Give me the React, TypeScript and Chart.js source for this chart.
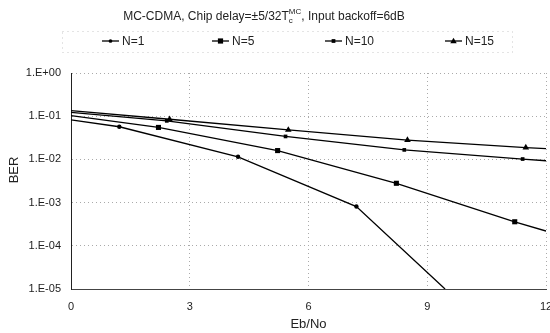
import React, { useEffect, useRef } from "react";
import { Chart, registerables } from "chart.js";

Chart.register(...registerables);

// ---- data ----
const seriesNames = ["N=1", "N=5", "N=10", "N=15"];
const n1X = [0, 1.22, 4.22, 7.21, 9.45];
const n1Y = [0.082, 0.057, 0.0115, 0.00081, 0.00001];
const n5X = [0, 2.21, 5.22, 8.22, 11.21, 12];
const n5Y = [0.103, 0.055, 0.016, 0.0028, 0.00036, 0.00022];
const n10X = [0, 2.42, 5.42, 8.42, 11.41, 12];
const n10Y = [0.123, 0.078, 0.034, 0.0166, 0.0102, 0.0093];
const n15X = [0, 2.49, 5.49, 8.5, 11.49, 12];
const n15Y = [0.134, 0.085, 0.048, 0.028, 0.0187, 0.0178];
const xTicks = [0, 3, 6, 9, 12];
const titleMain = "MC-CDMA, Chip delay=\u00B15/32T";
const titleSub = "c";
const titleSup = "MC";
const titleEnd = ", Input backoff=6dB";
const xTitle = "Eb/No";
const yTitle = "BER";

const FONT = "'Liberation Sans', Arial, sans-serif";
const markerStyles = ["circle", "rect", "rect", "triangle"];
const markerRadii = [2.2, 3.6, 2.6, 3.8];

const toPts = (xs: number[], ys: number[]) => xs.map((x, i) => ({ x, y: ys[i] }));

const isDecade = (v: number) => {
  const l = Math.log10(v);
  return Math.abs(l - Math.round(l)) < 1e-9;
};
const fmtDecade = (v: number) => {
  const e = Math.round(Math.log10(v));
  return "1.E" + (e >= 0 ? "+" : "-") + String(Math.abs(e)).padStart(2, "0");
};

function drawMarker(ctx: CanvasRenderingContext2D, style: string, x: number, y: number, r: number) {
  ctx.beginPath();
  if (style === "circle") {
    ctx.arc(x, y, r, 0, Math.PI * 2);
  } else if (style === "rect") {
    ctx.rect(x - r * 0.85, y - r * 0.85, r * 1.7, r * 1.7);
  } else {
    ctx.moveTo(x, y - r);
    ctx.lineTo(x + r, y + r * 0.7);
    ctx.lineTo(x - r, y + r * 0.7);
    ctx.closePath();
  }
  ctx.fill();
}

const legendPos = [102, 212, 325, 445];

const overlayPlugin = {
  id: "overlay",
  afterDraw(chart: any) {
    const ctx: CanvasRenderingContext2D = chart.ctx;
    ctx.save();
    // title
    ctx.fillStyle = "#222";
    ctx.textBaseline = "middle";
    const big = "12px " + FONT;
    const small = "8px " + FONT;
    ctx.font = big;
    const w1 = ctx.measureText(titleMain).width;
    const w4 = ctx.measureText(titleEnd).width;
    ctx.font = small;
    const w2 = ctx.measureText(titleSub).width;
    const w3 = ctx.measureText(titleSup).width;
    const total = w1 + Math.max(w2, w3) + w4;
    let x = 264 - total / 2;
    const ty = 17;
    ctx.textAlign = "left";
    ctx.font = big;
    ctx.fillText(titleMain, x, ty);
    x += w1;
    ctx.font = small;
    ctx.fillText(titleSub, x, ty + 4);
    ctx.fillText(titleSup, x, ty - 5);
    x += Math.max(w2, w3);
    ctx.font = big;
    ctx.fillText(titleEnd, x, ty);

    // legend border (dotted)
    ctx.strokeStyle = "#c8c8c8";
    ctx.lineWidth = 1;
    ctx.setLineDash([1, 4]);
    ctx.strokeRect(62.5, 31.5, 450, 21);
    ctx.setLineDash([]);

    // legend items
    const ly = 41;
    chart.data.datasets.forEach((ds: any, i: number) => {
      const lx = legendPos[i];
      ctx.strokeStyle = "#000";
      ctx.lineWidth = 1.3;
      ctx.beginPath();
      ctx.moveTo(lx, ly);
      ctx.lineTo(lx + 17, ly);
      ctx.stroke();
      ctx.fillStyle = "#000";
      drawMarker(ctx, markerStyles[i], lx + 8.5, ly, markerRadii[i] * 0.85);
      ctx.fillStyle = "#222";
      ctx.font = "12px " + FONT;
      ctx.textAlign = "left";
      ctx.textBaseline = "middle";
      ctx.fillText(ds.label, lx + 20, ly + 0.5);
    });

    // y axis title
    ctx.save();
    ctx.translate(14, 170);
    ctx.rotate(-Math.PI / 2);
    ctx.font = "13px " + FONT;
    ctx.fillStyle = "#222";
    ctx.textAlign = "center";
    ctx.textBaseline = "middle";
    ctx.fillText(yTitle, 0, 0);
    ctx.restore();

    ctx.restore();
  },
};

export default function App() {
  const ref = useRef<HTMLCanvasElement | null>(null);
  useEffect(() => {
    if (!ref.current) return;
    const all = [
      toPts(n1X, n1Y),
      toPts(n5X, n5Y),
      toPts(n10X, n10Y),
      toPts(n15X, n15Y),
    ];
    const chart = new Chart(ref.current, {
      type: "line",
      data: {
        datasets: all.map((pts, i) => ({
          label: seriesNames[i],
          data: pts,
          borderColor: "#000",
          backgroundColor: "#000",
          borderWidth: 1.3,
          pointStyle: markerStyles[i] as any,
          pointRadius: (c: any) =>
            c.dataIndex === 0 || c.dataIndex === pts.length - 1 ? 0 : markerRadii[i],
          pointBorderWidth: 0,
          tension: 0,
          fill: false,
        })),
      },
      options: {
        animation: false,
        responsive: false,
        devicePixelRatio: 1,
        layout: { padding: { top: 73, left: 0, right: 4, bottom: 0 } },
        plugins: {
          legend: { display: false },
          title: { display: false },
          tooltip: { enabled: false },
        },
        scales: {
          x: {
            type: "linear",
            min: 0,
            max: 12,
            afterBuildTicks: (s: any) => {
              s.ticks = xTicks.map((v) => ({ value: v }));
            },
            afterFit: (s: any) => {
              s.height = 44;
              s.paddingLeft = 0;
              s.paddingRight = 0;
            },
            ticks: {
              color: "#222",
              font: { family: FONT, size: 11 },
              padding: 11,
              maxRotation: 0,
              autoSkip: false,
            },
            grid: { color: "#aaa", drawTicks: false, lineWidth: 1 },
            border: { display: true, color: "#444", width: 1, dash: [1, 3] },
            title: {
              display: true,
              text: xTitle,
              color: "#222",
              font: { family: FONT, size: 13 },
              padding: { top: 0, bottom: 1 },
            },
          },
          y: {
            type: "logarithmic",
            min: 0.00001,
            max: 1,
            afterFit: (s: any) => {
              s.width = 71;
              s.paddingTop = 0;
              s.paddingBottom = 0;
            },
            ticks: {
              color: "#222",
              font: { family: FONT, size: 11 },
              padding: 10,
              autoSkip: false,
              callback: (v: any) => (isDecade(Number(v)) ? fmtDecade(Number(v)) : null),
            },
            grid: {
              color: (c: any) => (c.tick && isDecade(c.tick.value) ? "#aaa" : "transparent"),
              drawTicks: false,
              lineWidth: 1,
            },
            border: { display: true, color: "#222", width: 1, dash: [1, 3] },
            title: { display: false },
          },
        },
      },
      plugins: [overlayPlugin],
    });
    return () => chart.destroy();
  }, []);
  return (
    <div style={{ position: "fixed", left: 0, top: 0, width: 550, height: 333, background: "#fff" }}>
      <canvas ref={ref} width={550} height={333} />
    </div>
  );
}
